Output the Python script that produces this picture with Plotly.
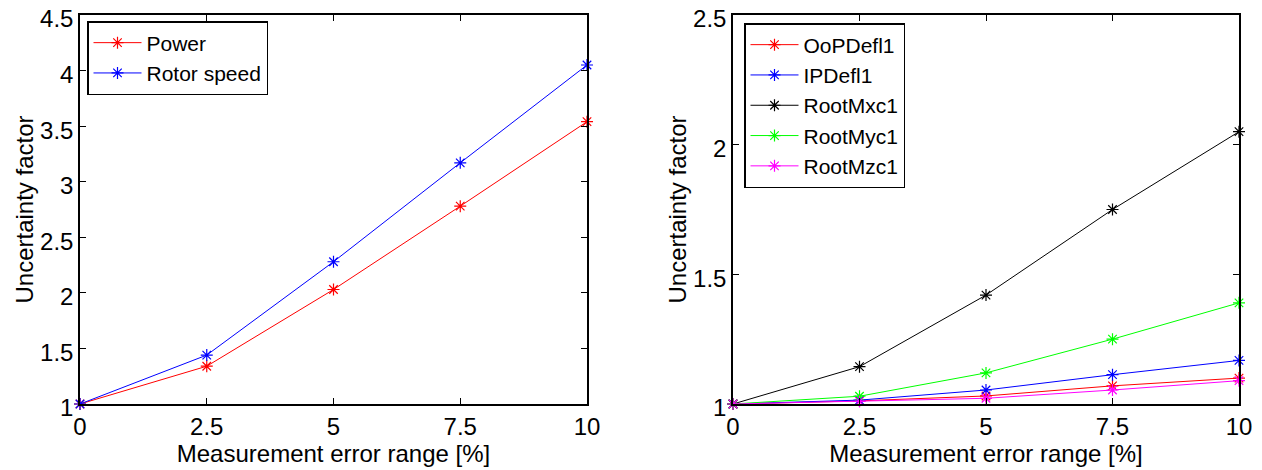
import plotly.graph_objects as go

x_vals = [0, 2.5, 5, 7.5, 10]

power = [1.0, 1.34, 2.03, 2.78, 3.54]
rotor_speed = [1.0, 1.44, 2.28, 3.17, 4.05]

oopdefl1 = [1.0, 1.012, 1.031, 1.07, 1.10]
ipdefl1 = [1.0, 1.015, 1.054, 1.113, 1.168]
rootmxc1 = [1.0, 1.144, 1.42, 1.75, 2.05]
rootmyc1 = [1.0, 1.03, 1.12, 1.25, 1.39]
rootmzc1 = [1.0, 1.01, 1.022, 1.054, 1.09]

left_series = [("Power", power, "#ff0000"), ("Rotor speed", rotor_speed, "#0000ff")]
right_series = [
    ("OoPDefl1", oopdefl1, "#ff0000"),
    ("IPDefl1", ipdefl1, "#0000ff"),
    ("RootMxc1", rootmxc1, "#000000"),
    ("RootMyc1", rootmyc1, "#00ff00"),
    ("RootMzc1", rootmzc1, "#ff00ff"),
]

left_yticks = [1, 1.5, 2, 2.5, 3, 3.5, 4, 4.5]
right_yticks = [1, 1.5, 2, 2.5]
xticks = [0, 2.5, 5, 7.5, 10]
xtick_text = ["0", "2.5", "5", "7.5", "10"]

fig = go.Figure()
for name, vals, col in left_series:
    fig.add_trace(go.Scatter(x=x_vals, y=vals, name=name, mode="lines+markers",
                             line=dict(color=col, width=1),
                             marker=dict(symbol="asterisk-open", size=10, color=col, line=dict(color=col, width=1.2)),
                             xaxis="x", yaxis="y", legend="legend", cliponaxis=False))
for name, vals, col in right_series:
    fig.add_trace(go.Scatter(x=x_vals, y=vals, name=name, mode="lines+markers",
                             line=dict(color=col, width=1),
                             marker=dict(symbol="asterisk-open", size=10, color=col, line=dict(color=col, width=1.2)),
                             xaxis="x2", yaxis="y2", legend="legend2", cliponaxis=False))

# page body has an 8px margin, so the figure is offset by 8px
OFF = 8
W, H = 1262 - OFF, 470 - OFF
def px_x(p):
    return (p - OFF) / W
def px_y(p):
    return 1 - (p - OFF) / H

FAM = "Liberation Sans, Arial, sans-serif"
font = dict(family=FAM, size=24, color="#000000")
axis_common = dict(showline=True, linecolor="#000000", linewidth=1.5, mirror="ticks",
                   ticks="inside", ticklen=6, tickcolor="#000000", tickwidth=1,
                   showgrid=False, zeroline=False, tickfont=font, automargin=False,
                   ticklabeloverflow="allow")

legend_common = dict(xanchor="left", yanchor="top", bordercolor="#000000", borderwidth=1.5,
                     bgcolor="white", font=dict(family=FAM, size=21, color="#000000"),
                     tracegroupgap=0, itemwidth=48)

fig.update_layout(
    width=W, height=H,
    margin=dict(l=0, r=0, t=0, b=0),
    paper_bgcolor="white", plot_bgcolor="white",
    font=font,
    xaxis=dict(domain=[px_x(80), px_x(587)], range=[0, 10], tickvals=xticks, ticktext=xtick_text,
               anchor="y", title=dict(text="Measurement error range [%]", font=font, standoff=2), **axis_common),
    yaxis=dict(domain=[px_y(404), px_y(15)], range=[1, 4.5], tickvals=left_yticks,
               ticktext=[f"{v:g}" for v in left_yticks], ticklabelshift=4,
               anchor="x", title=dict(text="Uncertainty factor", font=font, standoff=0), **axis_common),
    xaxis2=dict(domain=[px_x(733), px_x(1239)], range=[0, 10], tickvals=xticks, ticktext=xtick_text,
                anchor="y2", title=dict(text="Measurement error range [%]", font=font, standoff=2), **axis_common),
    yaxis2=dict(domain=[px_y(404), px_y(15)], range=[1, 2.5], tickvals=right_yticks,
                ticktext=[f"{v:g}" for v in right_yticks], ticklabelshift=4,
                anchor="x2", title=dict(text="Uncertainty factor", font=font, standoff=0), **axis_common),
    legend=dict(x=px_x(87), y=px_y(21), **legend_common),
    legend2=dict(x=px_x(744), y=px_y(23), **legend_common),
    showlegend=True,
)

fig.write_html("out.html")
